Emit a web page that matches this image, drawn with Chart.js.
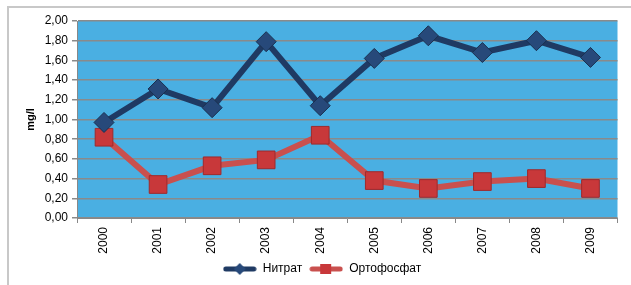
<!DOCTYPE html>
<html>
<head>
<meta charset="utf-8">
<script src="https://cdn.jsdelivr.net/npm/chart.js@4"></script>
<style>
  html, body { margin: 0; padding: 0; background: #fff; overflow: hidden; }
  #wrap { width: 631px; height: 285px; position: relative; }
</style>
</head>
<body>
<div id="wrap"><canvas id="chart" width="631" height="285"></canvas></div>
<script>
var years = ['2000', '2001', '2002', '2003', '2004', '2005', '2006', '2007', '2008', '2009'];
var nitrat = [0.97, 1.31, 1.12, 1.79, 1.14, 1.62, 1.85, 1.68, 1.80, 1.63];
var ortofosfat = [0.82, 0.34, 0.53, 0.59, 0.84, 0.38, 0.30, 0.37, 0.40, 0.30];
var seriesNames = ['Нитрат', 'Ортофосфат'];

var navy = '#1f3a63';
var navyMark = '#27497a';
var red = '#c9504e';
var redMark = '#c8383a';

// little line+marker picture for the legend
function legendIcon(lineColor, markColor, shape) {
  var c = document.createElement('canvas');
  c.width = 34; c.height = 12;
  var ctx = c.getContext('2d');
  ctx.strokeStyle = lineColor;
  ctx.lineWidth = 5;
  ctx.lineCap = 'round';
  ctx.beginPath(); ctx.moveTo(3, 6); ctx.lineTo(31, 6); ctx.stroke();
  ctx.fillStyle = markColor;
  ctx.beginPath();
  if (shape === 'diamond') {
    ctx.moveTo(17, 0); ctx.lineTo(23, 6); ctx.lineTo(17, 12); ctx.lineTo(11, 6);
  } else {
    ctx.rect(11, 1, 11, 10);
  }
  ctx.closePath(); ctx.fill();
  return c;
}
var icons = [legendIcon(navy, navyMark, 'diamond'), legendIcon(red, redMark, 'square')];

var framePlugin = {
  id: 'frame',
  beforeDraw: function(chart) {
    var ctx = chart.ctx, a = chart.chartArea;
    ctx.save();
    ctx.strokeStyle = '#c8c8c8';
    ctx.lineWidth = 2;
    ctx.beginPath();
    ctx.moveTo(8, 285); ctx.lineTo(8, 7); ctx.lineTo(631, 7);
    ctx.stroke();
    ctx.fillStyle = '#4aafe2';
    ctx.fillRect(a.left, a.top, a.right - a.left, a.bottom - a.top);
    ctx.restore();
  }
};

new Chart(document.getElementById('chart'), {
  type: 'line',
  data: {
    labels: years,
    datasets: [
      {
        label: seriesNames[0],
        data: nitrat,
        borderColor: navy,
        borderWidth: 6,
        pointStyle: 'rectRot',
        pointRadius: 10,
        pointBackgroundColor: navyMark,
        pointBorderColor: '#1a3050',
        pointBorderWidth: 1
      },
      {
        label: seriesNames[1],
        data: ortofosfat,
        borderColor: red,
        borderWidth: 6,
        pointStyle: 'rect',
        pointRadius: 12.5,
        pointBackgroundColor: redMark,
        pointBorderColor: '#9e2a2c',
        pointBorderWidth: 1
      }
    ]
  },
  options: {
    responsive: false,
    animation: false,
    layout: { padding: { top: 21, right: 11, bottom: 0, left: 24 } },
    plugins: {
      tooltip: { enabled: false },
      legend: {
        position: 'bottom',
        labels: {
          usePointStyle: true,
          pointStyleWidth: 34,
          boxHeight: 12,
          padding: 7,
          color: '#000',
          font: { family: 'Liberation Sans, Arial', size: 12 },
          generateLabels: function(chart) {
            return chart.data.datasets.map(function(ds, i) {
              return { text: ds.label, pointStyle: icons[i], datasetIndex: i, lineWidth: 0, fillStyle: 'transparent', strokeStyle: 'transparent' };
            });
          }
        }
      }
    },
    scales: {
      x: {
        offset: true,
        grid: { display: true, drawOnChartArea: false, offset: true, tickLength: 5, color: '#888' },
        border: { color: '#888' },
        ticks: {
          minRotation: 90, maxRotation: 90, padding: 4,
          color: '#000', font: { family: 'Liberation Sans, Arial', size: 12 }
        },
        afterFit: function(s) { s.height = 38; }
      },
      y: {
        min: 0, max: 2,
        ticks: {
          stepSize: 0.2, padding: 4, color: '#000',
          font: { family: 'Liberation Sans, Arial', size: 12 },
          callback: function(v) { return v.toFixed(2).replace('.', ','); }
        },
        grid: { color: '#8a8a8a', lineWidth: 1.5, tickLength: 5, drawTicks: true },
        border: { color: '#888' },
        title: {
          display: true, text: 'mg/l', color: '#000',
          font: { family: 'Liberation Sans, Arial', size: 11, weight: 'bold' },
          padding: { top: 0, bottom: 0 }
        },
        afterFit: function(s) { s.width = 53; }
      }
    }
  },
  plugins: [framePlugin]
});
</script>
</body>
</html>
